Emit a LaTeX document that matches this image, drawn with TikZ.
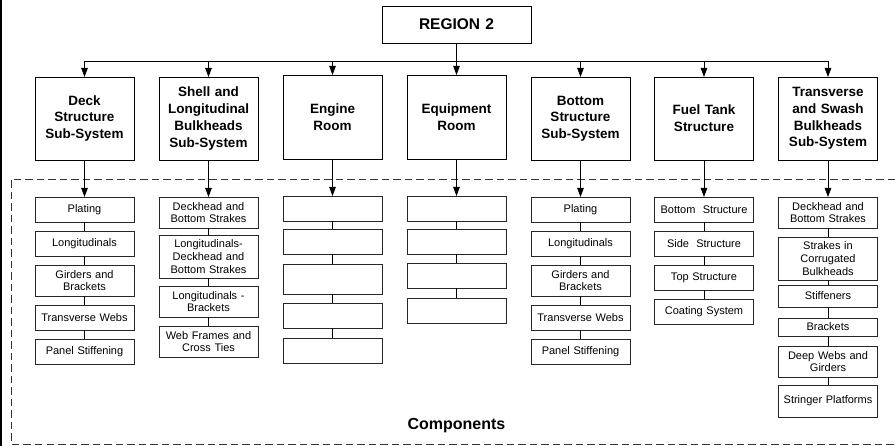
\documentclass[tikz,border=0pt]{standalone}
\usepackage{fontspec}
\setmainfont{Liberation Sans}
\usetikzlibrary{arrows.meta}
\tikzset{
  top/.style={draw=black, line width=0.9pt, fill=white, inner sep=1pt, outer sep=0pt, align=center,
    minimum height=37pt, text width=147pt, font=\fontsize{15.5}{18}\selectfont\bfseries},
  sub/.style={draw=black, line width=0.9pt, fill=white, inner sep=1pt, outer sep=0pt, align=center,
    text width=97pt, font=\fontsize{13.5}{16.7}\selectfont\bfseries},
  comp/.style={draw=black!85, line width=0.8pt, fill=white, inner sep=1pt, outer sep=0pt, align=center,
    text width=97pt, font=\fontsize{11}{12.8}\selectfont},
  conn/.style={line width=0.8pt, draw=black},
  arr/.style={conn, -{Triangle[length=9pt,width=6.5pt]}},
  frame/.style={line width=0.8pt, draw=black!80, dash pattern=on 7.5pt off 4pt},
}
\begin{document}
\begin{tikzpicture}[x=1pt,y=-1pt]
\useasboundingbox (0,0) rectangle (895,446);
% left edge line
\draw[line width=1.6pt] (1,0) -- (1,446);
% dashed components frame (open at right)
\draw[frame] (895,179) -- (11,179) -- (11,444) -- (895,444);
\node[font=\fontsize{16}{19}\selectfont\bfseries] (complabel) at (456.5,426) {Components};

% top
\node[top] (r2) at (456.5,24.5) {REGION 2};

% level 2
\node[sub, minimum height=83pt] (s1) at (84.5,118.5) {Deck\\Structure\\Sub-System};
\node[sub, minimum height=83pt] (s2) at (208.5,118.5) {Shell and\\Longitudinal\\Bulkheads\\Sub-System};
\node[sub, minimum height=84pt] (s3) at (332.5,117) {Engine\\Room};
\node[sub, minimum height=84pt] (s4) at (456.5,117) {Equipment\\Room};
\node[sub, minimum height=83pt] (s5) at (580.5,118.5) {Bottom\\Structure\\Sub-System};
\node[sub, minimum height=83pt] (s6) at (704,118.5) {Fuel Tank\\Structure};
\node[sub, minimum height=83pt] (s7) at (828,118.5) {Transverse\\and Swash\\Bulkheads\\Sub-System};

% bus
\coordinate (busL) at (84.5,61);
\coordinate (busR) at (828,61);
\coordinate (busC) at (456.5,61);
\draw[conn] (busL) -- (busR);
\draw[arr] (r2.south) -- (s4.north);
\foreach \i in {1,2,3,5,6,7} {
  \draw[arr] (s\i.north |- busL) -- (s\i.north);
}

% column 1
\node[comp, minimum height=25pt] (a1) at (84.5,209.5) {Plating};
\node[comp, minimum height=25pt] (a2) at (84.5,243.5) {Longitudinals};
\node[comp, minimum height=31pt] (a3) at (84.5,280.5) {Girders and\\Brackets};
\node[comp, minimum height=25pt] (a4) at (84.5,317.5) {Transverse Webs};
\node[comp, minimum height=25pt] (a5) at (84.5,351.5) {Panel Stiffening};

% column 2
\node[comp, minimum height=31pt] (b1) at (208.5,212.5) {Deckhead and\\Bottom Strakes};
\node[comp, minimum height=43pt] (b2) at (208.5,256.5) {Longitudinals-\\Deckhead and\\Bottom Strakes};
\node[comp, minimum height=31pt] (b3) at (208.5,301.5) {Longitudinals -\\Brackets};
\node[comp, minimum height=31pt] (b4) at (208.5,341.5) {Web Frames and\\Cross Ties};

% column 3
\node[comp, minimum height=25pt] (c1) at (332.5,208.5) {};
\node[comp, minimum height=25pt] (c2) at (332.5,241.5) {};
\node[comp, minimum height=30pt] (c3) at (332.5,279) {};
\node[comp, minimum height=25pt] (c4) at (332.5,316) {};
\node[comp, minimum height=25pt] (c5) at (332.5,350.5) {};

% column 4
\node[comp, minimum height=25pt] (d1) at (456.5,208.5) {};
\node[comp, minimum height=25pt] (d2) at (456.5,241.5) {};
\node[comp, minimum height=25pt] (d3) at (456.5,276) {};
\node[comp, minimum height=25pt] (d4) at (456.5,310.5) {};

% column 5
\node[comp, minimum height=25pt] (e1) at (580.5,209.5) {Plating};
\node[comp, minimum height=25pt] (e2) at (580.5,243.5) {Longitudinals};
\node[comp, minimum height=31pt] (e3) at (580.5,280.5) {Girders and\\Brackets};
\node[comp, minimum height=25pt] (e4) at (580.5,317.5) {Transverse Webs};
\node[comp, minimum height=25pt] (e5) at (580.5,351.5) {Panel Stiffening};

% column 6
\node[comp, minimum height=25pt] (f1) at (704,209.5) {Bottom~ Structure};
\node[comp, minimum height=25pt] (f2) at (704,243.5) {Side~ Structure};
\node[comp, minimum height=25pt] (f3) at (704,277.5) {Top Structure};
\node[comp, minimum height=25pt] (f4) at (704,311.5) {Coating System};

% column 7
\node[comp, minimum height=31pt] (g1) at (828,212.5) {Deckhead and\\Bottom Strakes};
\node[comp, minimum height=43pt] (g2) at (828,258.5) {Strakes in\\Corrugated\\Bulkheads};
\node[comp, minimum height=22pt] (g3) at (828,296) {Stiffeners};
\node[comp, minimum height=18pt] (g4) at (828,327) {Brackets};
\node[comp, minimum height=31pt] (g5) at (828,361.5) {Deep Webs and\\Girders};
\node[comp, minimum height=32pt] (g6) at (828,401) {Stringer Platforms};

% arrows from level 2 to components
\draw[arr] (s1.south) -- (a1.north);
\draw[arr] (s2.south) -- (b1.north);
\draw[arr] (s3.south) -- (c1.north);
\draw[arr] (s4.south) -- (d1.north);
\draw[arr] (s5.south) -- (e1.north);
\draw[arr] (s6.south) -- (f1.north);
\draw[arr] (s7.south) -- (g1.north);

% chains
\foreach \p/\q in {a1/a2,a2/a3,a3/a4,a4/a5,
                   b1/b2,b2/b3,b3/b4,
                   c1/c2,c2/c3,c3/c4,c4/c5,
                   d1/d2,d2/d3,d3/d4,
                   e1/e2,e2/e3,e3/e4,e4/e5,
                   f1/f2,f2/f3,f3/f4,
                   g1/g2,g2/g3,g3/g4,g4/g5,g5/g6} {
  \draw[conn] (\p.south) -- (\q.north);
}
\end{tikzpicture}
\end{document}
